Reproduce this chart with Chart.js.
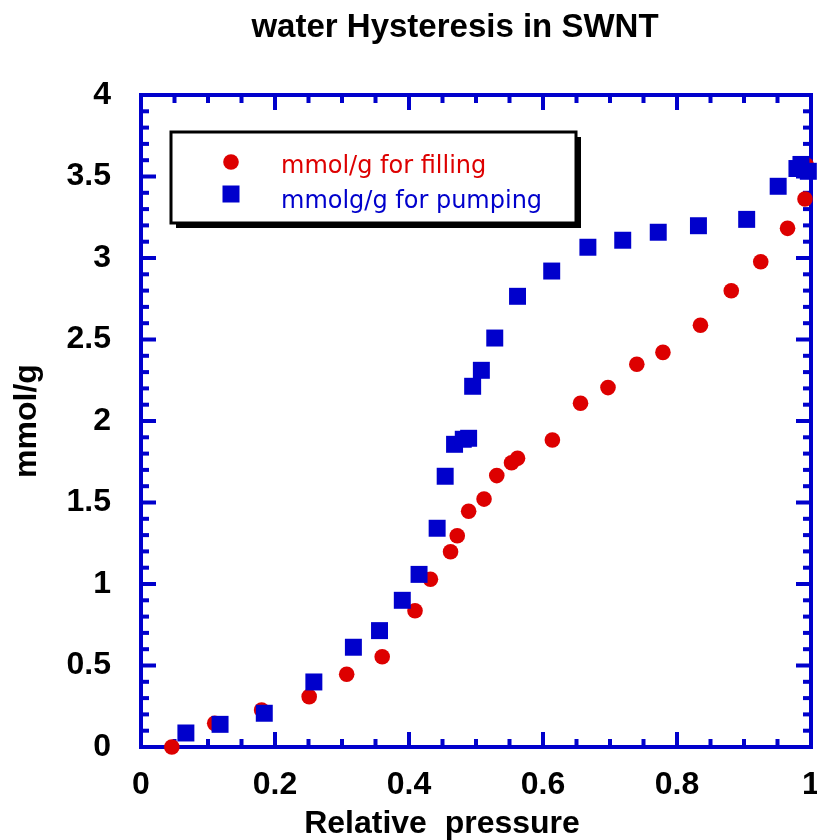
<!DOCTYPE html>
<html>
<head>
<meta charset="utf-8">
<title>water Hysteresis in SWNT</title>
<script src="https://cdn.jsdelivr.net/npm/chart.js@4.4.1/dist/chart.umd.min.js"></script>
<style>
    html, body { margin: 0; padding: 0; background: #fff; }
</style>
</head>
<body>
<canvas id="chart" width="817" height="840"></canvas>
<script>
// ─── Data ──────────────────────────────────────────────────

const fillP = [0.046, 0.110, 0.180, 0.251, 0.307, 0.360, 0.409, 0.432, 0.462, 0.472,
               0.489, 0.512, 0.531, 0.553, 0.562, 0.614, 0.656, 0.697, 0.740, 0.779,
               0.835, 0.881, 0.925, 0.965, 0.991, 0.993];
const fillQ = [0.000, 0.145, 0.227, 0.309, 0.446, 0.554, 0.836, 1.029, 1.198, 1.296,
               1.446, 1.521, 1.665, 1.744, 1.771, 1.883, 2.109, 2.205, 2.348, 2.421,
               2.587, 2.799, 2.977, 3.182, 3.362, 3.570];

const pumpP = [0.067, 0.118, 0.184, 0.258, 0.317, 0.356, 0.390, 0.415, 0.442, 0.454,
               0.468, 0.481, 0.489, 0.495, 0.508, 0.528, 0.562, 0.613, 0.667, 0.719,
               0.772, 0.832, 0.904, 0.951, 0.979, 0.985, 0.996];
const pumpQ = [0.086, 0.139, 0.207, 0.399, 0.612, 0.714, 0.900, 1.059, 1.342, 1.661,
               1.857, 1.888, 1.894, 2.213, 2.311, 2.509, 2.765, 2.920, 3.066, 3.109,
               3.158, 3.198, 3.237, 3.440, 3.549, 3.574, 3.532];

const seriesLabels = ['mmol/g for filling', 'mmolg/g for pumping'];
const xTickLabels = ['0', '0.2', '0.4', '0.6', '0.8', '1'];
const yTickLabels = ['0', '0.5', '1', '1.5', '2', '2.5', '3', '3.5', '4'];

const TITLE = 'water Hysteresis in SWNT';
const X_TITLE = 'Relative  pressure';
const Y_TITLE = 'mmol/g';

const RED = '#dd0000';
const BLUE = '#0000cc';
const SANS = "'Liberation Sans', Arial, sans-serif";

// ─── Plugins: frame with inward ticks, legend box, titles ──

const framePlugin = {
    id: 'frame',
    beforeDatasetsDraw(chart) {
        const { ctx, chartArea: a, scales: { x, y } } = chart;
        ctx.save();
        ctx.strokeStyle = BLUE;
        ctx.fillStyle = BLUE;
        ctx.lineWidth = 4;
        ctx.strokeRect(a.left, a.top, a.right - a.left, a.bottom - a.top);

        // x ticks every 0.05, major every 0.2
        for (let k = 0; k <= 20; k++) {
            const px = x.getPixelForValue(k * 0.05);
            const len = k % 4 === 0 ? 15 : 8;
            ctx.fillRect(px - 2, a.bottom - len, 4, len);
            ctx.fillRect(px - 2, a.top, 4, len);
        }
        // y ticks every 0.1, major every 0.5
        for (let k = 0; k <= 40; k++) {
            const py = y.getPixelForValue(k * 0.1);
            const len = k % 5 === 0 ? 15 : 8;
            ctx.fillRect(a.left, py - 2, len, 4);
            ctx.fillRect(a.right - len, py - 2, len, 4);
        }
        ctx.restore();
    },
};

const legendBoxPlugin = {
    id: 'legendBox',
    afterDraw(chart) {
        const { ctx, chartArea: a } = chart;
        const bx = a.left + 30, by = a.top + 37, bw = 405, bh = 91;
        ctx.save();
        // shadow
        ctx.fillStyle = '#000';
        ctx.fillRect(bx + 5, by + 5, bw, bh);
        ctx.fillStyle = '#fff';
        ctx.fillRect(bx, by, bw, bh);
        ctx.strokeStyle = '#000';
        ctx.lineWidth = 3;
        ctx.strokeRect(bx, by, bw, bh);

        const ds = chart.data.datasets;
        // filling marker
        ctx.fillStyle = RED;
        ctx.beginPath();
        ctx.arc(bx + 60, by + 30, 7.8, 0, Math.PI * 2);
        ctx.fill();
        // pumping marker
        ctx.fillStyle = BLUE;
        ctx.fillRect(bx + 60 - 8.5, by + 62 - 8.5, 17, 17);

        ctx.font = "24px 'DejaVu Sans', Verdana, sans-serif";
        ctx.textBaseline = 'alphabetic';
        ctx.textAlign = 'left';
        ctx.fillStyle = RED;
        ctx.fillText(ds[0].label, bx + 110, by + 41);
        ctx.fillStyle = BLUE;
        ctx.fillText(ds[1].label, bx + 110, by + 76);
        ctx.restore();
    },
};

const titlesPlugin = {
    id: 'titles',
    afterDraw(chart) {
        const { ctx } = chart;
        ctx.save();
        ctx.fillStyle = '#000';
        ctx.textAlign = 'center';
        ctx.textBaseline = 'alphabetic';
        ctx.font = 'bold 33px ' + SANS;
        ctx.fillText(TITLE, 455, 37);
        ctx.font = 'bold 32px ' + SANS;
        ctx.fillText(X_TITLE, 442, 833);
        ctx.restore();
    },
};

// ─── Chart ─────────────────────────────────────────────────

new Chart(document.getElementById('chart'), {
    type: 'scatter',
    data: {
        datasets: [
            {
                label: seriesLabels[0],
                data: fillP.map((p, i) => ({ x: p, y: fillQ[i] })),
                pointStyle: 'circle',
                pointRadius: 7.8,
                pointHoverRadius: 7.8,
                backgroundColor: RED,
                borderWidth: 0,
                clip: false,
                order: 2,
            },
            {
                label: seriesLabels[1],
                data: pumpP.map((p, i) => ({ x: p, y: pumpQ[i] })),
                pointStyle: 'rect',
                pointRadius: 12,
                pointHoverRadius: 12,
                backgroundColor: BLUE,
                borderWidth: 0,
                clip: false,
                order: 1,
            },
        ],
    },
    options: {
        responsive: false,
        animation: false,
        events: [],
        layout: { autoPadding: false, padding: { top: 95, right: 6, bottom: 0, left: 0 } },
        plugins: {
            legend: { display: false },
            tooltip: { enabled: false },
            title: { display: false },
        },
        scales: {
            x: {
                type: 'linear',
                min: 0,
                max: 1,
                grid: { display: false },
                border: { display: false },
                ticks: {
                    stepSize: 0.2,
                    autoSkip: false,
                    maxRotation: 0,
                    padding: 11,
                    color: '#000',
                    font: { family: SANS, size: 32, weight: 'bold' },
                    callback: (v, i) => xTickLabels[i],
                },
                afterFit(s) {
                    s.height = 93;
                    s.paddingLeft = 0;
                    s.paddingRight = 0;
                },
            },
            y: {
                type: 'linear',
                min: 0,
                max: 4,
                grid: { display: false },
                border: { display: false },
                title: {
                    display: true,
                    text: Y_TITLE,
                    color: '#000',
                    padding: { top: 8, bottom: 0 },
                    font: { family: SANS, size: 32, weight: 'bold' },
                },
                ticks: {
                    stepSize: 0.5,
                    autoSkip: false,
                    padding: 22,
                    color: '#000',
                    font: { family: SANS, size: 32, weight: 'bold' },
                    callback: (v, i) => yTickLabels[i],
                },
                afterFit(s) {
                    s.width = 141;
                    s.paddingTop = 0;
                    s.paddingBottom = 0;
                },
            },
        },
    },
    plugins: [framePlugin, legendBoxPlugin, titlesPlugin],
});
</script>
</body>
</html>
